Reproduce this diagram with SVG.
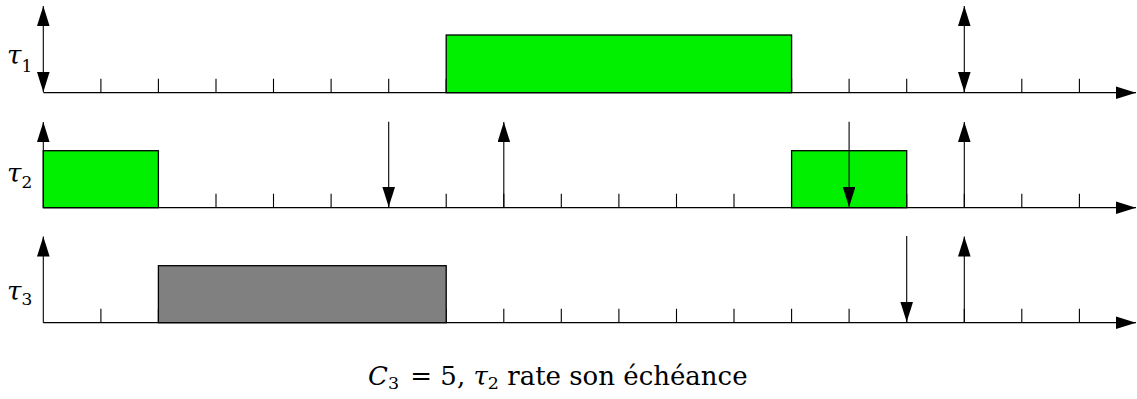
<svg xmlns="http://www.w3.org/2000/svg" width="1137" height="399" viewBox="0 0 1137 399">
<style>
.ax{stroke:#000;stroke-width:1.3;fill:none}
.tk{stroke:#000;stroke-width:1.1}
.ar{stroke:#000;stroke-width:1.1;fill:none}
.g{fill:#00f000;stroke:#000;stroke-width:1.3}
.gr{fill:#808080;stroke:#000;stroke-width:1.3}
.t{font-family:'DejaVu Serif','Liberation Serif',serif;fill:#000}
.m{font-style:italic}
</style>
<defs>
<marker id="ah" markerUnits="userSpaceOnUse" markerWidth="21" markerHeight="13" refX="20" refY="6.3" orient="auto-start-reverse">
<path d="M0,0 L20,6.3 L0,12.6 z" fill="#000"/>
</marker>
<g id="ticks">
<path class="tk" d="M100.9,0v-14M158.4,0v-14M216,0v-14M273.5,0v-14M331.1,0v-14M388.7,0v-14M446.2,0v-14M503.8,0v-14M561.3,0v-14M618.9,0v-14M676.5,0v-14M734,0v-14M791.6,0v-14M849.1,0v-14M906.7,0v-14M964.3,0v-14M1021.8,0v-14M1079.4,0v-14"/>
</g>
</defs>
<g id="task1">
<use href="#ticks" transform="translate(0,92.7)"/>
<line class="ax" x1="43.3" y1="92.7" x2="1136" y2="92.7" marker-end="url(#ah)"/>
<rect class="g" x="446.2" y="35" width="345.4" height="57.7"/>
<text class="t" font-family="DejaVu Serif, serif" x="7" y="63.5" font-size="26"><tspan class="m">τ</tspan><tspan font-size="17" dy="8">1</tspan></text>
</g>
<g id="task2">
<use href="#ticks" transform="translate(0,207.7)"/>
<line class="ax" x1="43.3" y1="207.7" x2="1136" y2="207.7" marker-end="url(#ah)"/>
<rect class="g" x="43.3" y="150.7" width="115.1" height="57"/>
<rect class="g" x="791.6" y="150.7" width="115.1" height="57"/>
<text class="t" font-family="DejaVu Serif, serif" x="7" y="182" font-size="26"><tspan class="m">τ</tspan><tspan font-size="17" dy="6">2</tspan></text>
</g>
<g id="task3">
<use href="#ticks" transform="translate(0,322.7)"/>
<line class="ax" x1="43.3" y1="322.7" x2="1136" y2="322.7" marker-end="url(#ah)"/>
<rect class="gr" x="158.4" y="265.7" width="287.8" height="57"/>
<text class="t" font-family="DejaVu Serif, serif" x="7" y="300" font-size="26"><tspan class="m">τ</tspan><tspan font-size="17" dy="5">3</tspan></text>
</g>
<g id="connectors">
<line class="ar" x1="43.3" y1="6" x2="43.3" y2="92" marker-start="url(#ah)" marker-end="url(#ah)"/>
<line class="ar" x1="964.3" y1="6" x2="964.3" y2="92" marker-start="url(#ah)" marker-end="url(#ah)"/>
<line class="ar" x1="43.3" y1="207.7" x2="43.3" y2="122" marker-end="url(#ah)"/>
<line class="ar" x1="503.8" y1="207.7" x2="503.8" y2="122" marker-end="url(#ah)"/>
<line class="ar" x1="964.3" y1="207.7" x2="964.3" y2="122" marker-end="url(#ah)"/>
<line class="ar" x1="388.7" y1="121.7" x2="388.7" y2="207" marker-end="url(#ah)"/>
<line class="ar" x1="849.1" y1="121.7" x2="849.1" y2="207" marker-end="url(#ah)"/>
<line class="ar" x1="43.3" y1="322.7" x2="43.3" y2="236.5" marker-end="url(#ah)"/>
<line class="ar" x1="964.3" y1="322.7" x2="964.3" y2="236.5" marker-end="url(#ah)"/>
<line class="ar" x1="906.7" y1="236" x2="906.7" y2="322" marker-end="url(#ah)"/>
</g>
<text class="t" font-family="DejaVu Serif, serif" x="368" y="385" font-size="26"><tspan class="m">C</tspan><tspan font-size="17.5" dy="4">3</tspan><tspan dy="-4" dx="3"> = 5, </tspan><tspan class="m">τ</tspan><tspan font-size="17.5" dy="4">2</tspan><tspan dy="-4"> rate son échéance</tspan></text>
</svg>
